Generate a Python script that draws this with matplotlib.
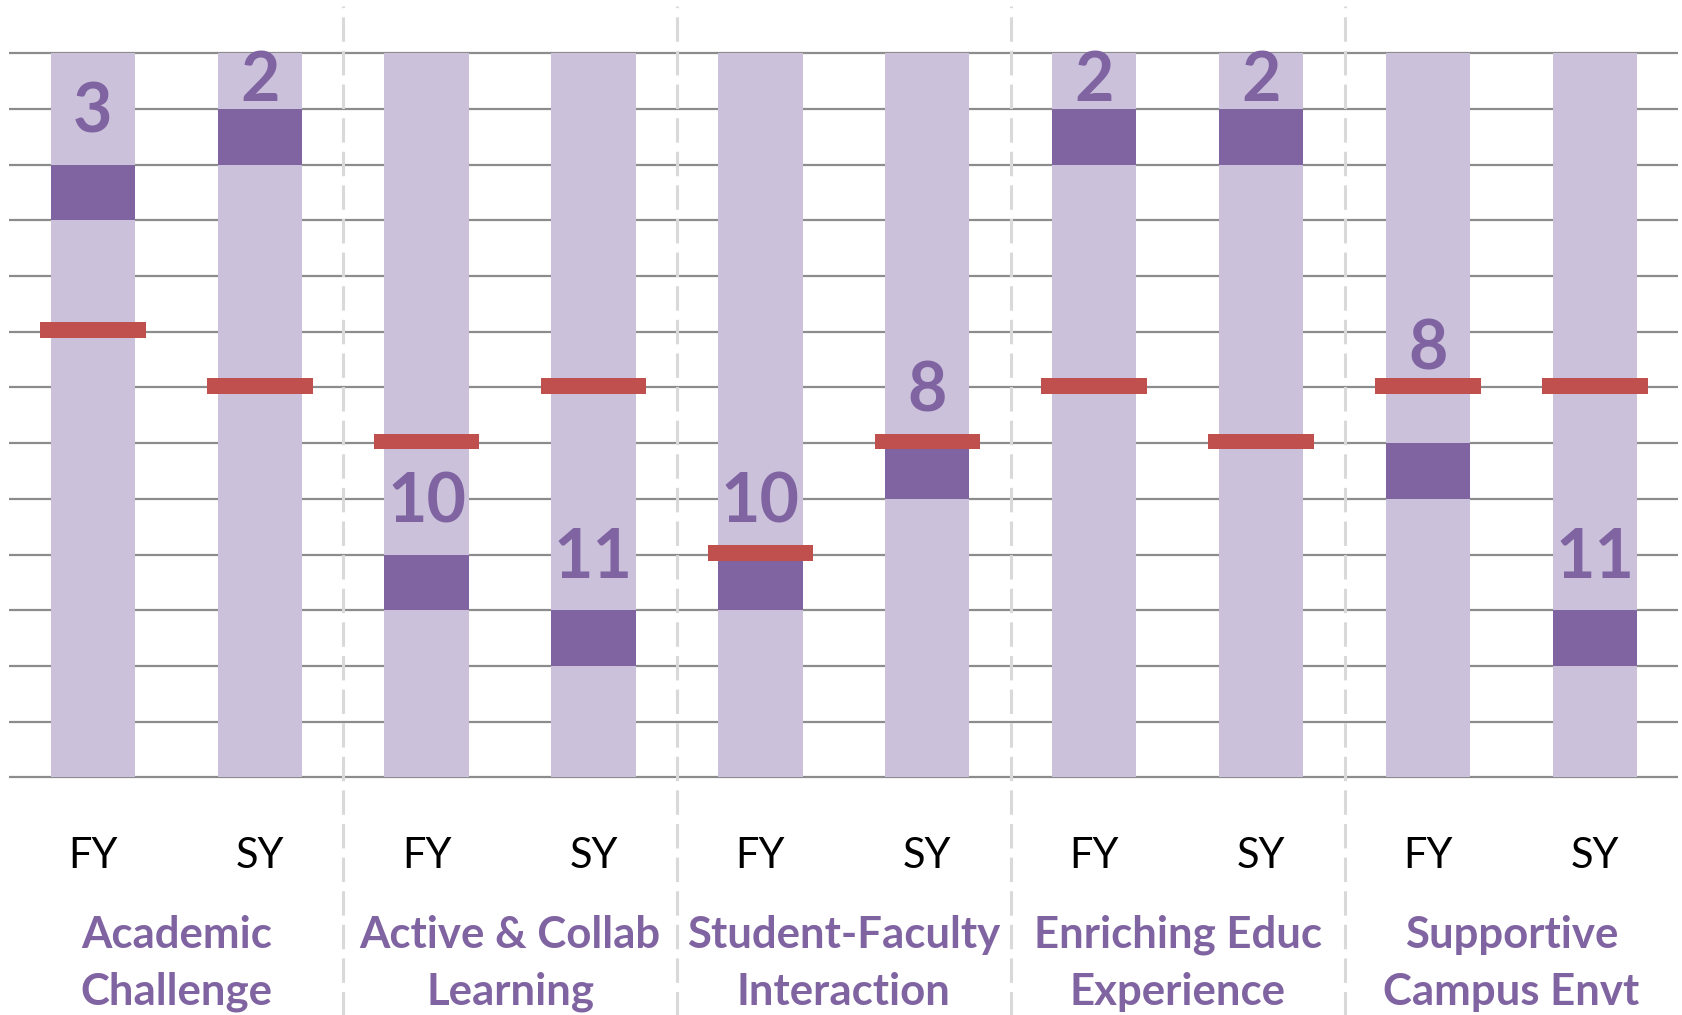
import numpy as np
import matplotlib.pyplot as plt

# data
groups = ["Academic\nChallenge", "Active & Collab\nLearning", "Student-Faculty\nInteraction",
          "Enriching Educ\nExperience", "Supportive\nCampus Envt"]
cohorts = ["FY", "SY"] * 5
ranks = [3, 2, 10, 11, 10, 8, 2, 2, 8, 11]       # dark block row (1 = top)
medians = [5, 6, 7, 6, 9, 7, 6, 7, 6, 6]        # red marker position
n_rows = 13

LIGHT = "#CBC1DB"
DARK = "#8064A2"
RED = "#C0504D"
GRID = "#8C8C8C"

fig = plt.figure(figsize=(16.83, 10.15), dpi=100)
ax = fig.add_axes([0.00556, 0.2342, 0.99171, 0.7133])

x = np.arange(len(ranks))
ax.set_xlim(-0.5, len(ranks) - 0.5)
ax.set_ylim(n_rows, 0)
ax.axis("off")

# horizontal grid
ax.hlines(np.arange(n_rows + 1), -0.5, len(ranks) - 0.5, color=GRID, lw=1.6,
          zorder=0, clip_on=False)

# background column, rank block, red marker
ax.bar(x, n_rows, bottom=0, width=0.505, color=LIGHT, zorder=1)
ranks_arr = np.array(ranks)
ax.bar(x, 1, bottom=ranks_arr - 1, width=0.505, color=DARK, zorder=2)
med = np.array(medians)
ax.bar(x, 0.28, bottom=med - 0.17, width=0.633, color=RED, zorder=3)

# rank labels above the block, moved if they collide with the marker
cap = 0.43
for xi, r, m in zip(x, ranks, medians):
    ly = r - 2
    if ly < 0.42:
        ly = 0.42
    elif abs(ly - m) < 0.5:
        ly = ly - 0.75
    ax.text(xi, ly + cap, str(r), ha="center", va="baseline", fontsize=49,
            fontweight="bold", color=DARK, family="Lato", zorder=4)

# group separators
for s in np.arange(1.5, len(ranks) - 1, 2):
    ax.axvline(s, ymin=-0.33, ymax=1.066, color="#D9D9D9", lw=2.2,
               dashes=(8, 3), clip_on=False, zorder=0)

# x labels
trans = ax.get_xaxis_transform()
for xi, c in zip(x, cohorts):
    ax.text(xi, -0.1253, c, transform=trans, ha="center", va="baseline",
            fontsize=30, family="Lato", color="black")

for gi, g in enumerate(groups):
    gx = 2 * gi + 0.5
    for li, line in enumerate(g.split("\n")):
        ax.text(gx, -0.2356 - li * 0.0787, line, transform=trans, ha="center",
                va="baseline", fontsize=31.5, fontweight="bold", family="Lato",
                color=DARK)

fig.savefig("out.png", dpi=100, facecolor="white")
